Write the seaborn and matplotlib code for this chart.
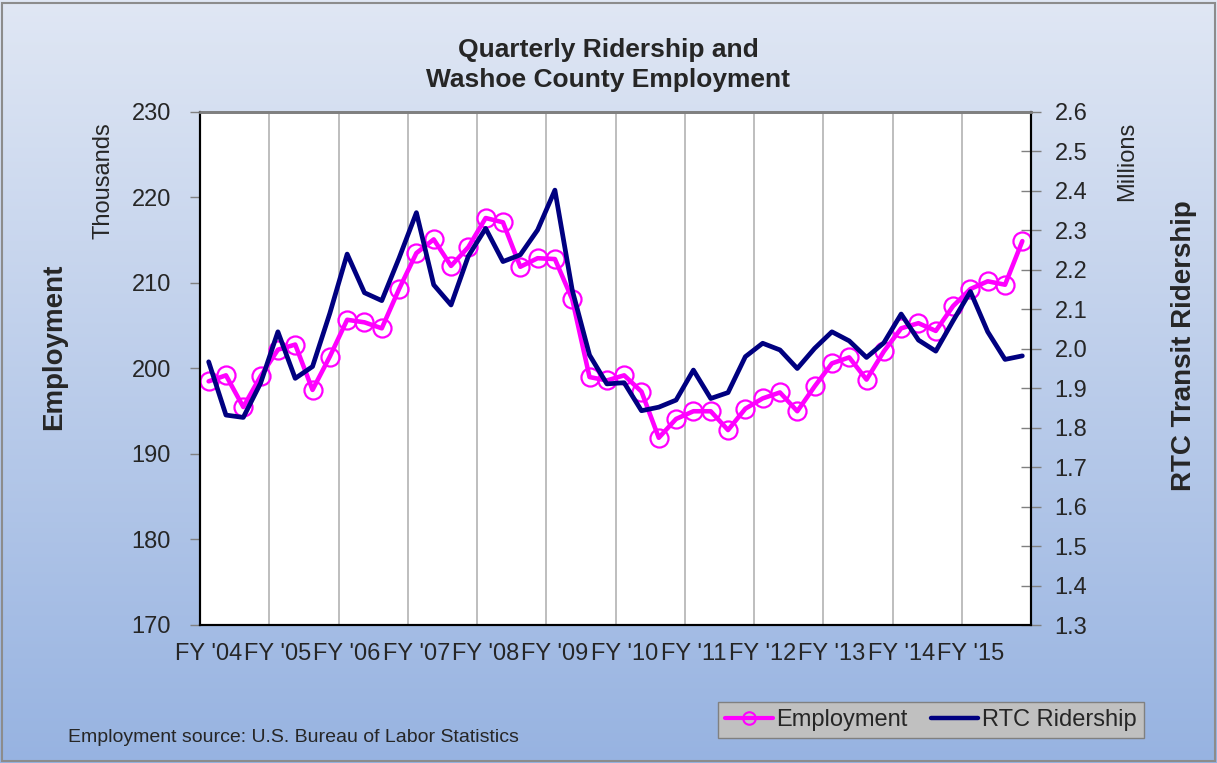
import numpy as np
import pandas as pd
import seaborn as sns
import matplotlib.pyplot as plt
from matplotlib.lines import Line2D
from matplotlib.patches import Rectangle
from matplotlib.colors import LinearSegmentedColormap
from matplotlib.ticker import FormatStrFormatter

# fiscal year labels (4 quarters each)
years = ["FY '04", "FY '05", "FY '06", "FY '07", "FY '08", "FY '09",
         "FY '10", "FY '11", "FY '12", "FY '13", "FY '14", "FY '15"]

# Washoe County employment, thousands (quarterly)
employment = [198.5, 199.2, 195.5, 199.1, 202.2, 202.8, 197.5, 201.4,
              205.7, 205.4, 204.7, 209.3, 213.5, 215.1, 212.0, 214.2,
              217.6, 217.1, 211.9, 212.9, 212.8, 208.1, 199.0, 198.6,
              199.2, 197.3, 191.9, 194.1, 195.0, 195.0, 192.8, 195.3,
              196.5, 197.2, 195.0, 197.9, 200.6, 201.3, 198.7, 202.0,
              204.7, 205.3, 204.4, 207.3, 209.3, 210.2, 209.8, 214.9]

# RTC transit ridership, millions (quarterly)
ridership = [1.967, 1.832, 1.826, 1.913, 2.043, 1.925, 1.955, 2.090,
             2.240, 2.142, 2.122, 2.230, 2.345, 2.162, 2.111, 2.235,
             2.305, 2.221, 2.238, 2.301, 2.402, 2.149, 1.984, 1.911,
             1.914, 1.843, 1.852, 1.870, 1.946, 1.874, 1.889, 1.980,
             2.014, 1.997, 1.950, 2.001, 2.043, 2.020, 1.978, 2.015,
             2.088, 2.022, 1.994, 2.071, 2.145, 2.043, 1.973, 1.982]

df = pd.DataFrame({"quarter": np.arange(len(employment)) + 0.5,
                   "Employment": employment,
                   "RTC Ridership": ridership})

sns.set_style("white")
plt.rcParams['font.family'] = ['Liberation Sans', 'DejaVu Sans']

fig = plt.figure(figsize=(12.17, 7.63), dpi=100)

# background gradient
bg = fig.add_axes([0, 0, 1, 1], zorder=-10)
grad = np.linspace(0, 1, 256).reshape(-1, 1)
cmap = LinearSegmentedColormap.from_list("bg", ["#e0e7f4", "#97b3e1"])
bg.imshow(grad, aspect='auto', cmap=cmap, extent=[0, 1, 0, 1])
bg.axis('off')
fig.patches.append(Rectangle((0.002, 0.002), 0.996, 0.994, transform=fig.transFigure,
                             fill=False, edgecolor='#8c8c8c', lw=1.5))

ax = fig.add_axes([200/1217, 1-625/763, 831/1217, 513/763])
ax.set_facecolor('white')
sns.lineplot(data=df, x='quarter', y='Employment', ax=ax, color='#ff00ff', lw=3.3,
             marker='o', markersize=13, markerfacecolor='none',
             markeredgecolor='#ff00ff', markeredgewidth=1.6)

ax2 = ax.twinx()
sns.lineplot(data=df, x='quarter', y='RTC Ridership', ax=ax2, color='#000080', lw=3.4)

# axes limits and ticks
ax.set_xlim(0, 48)
ax.set_ylim(170, 230)
ax2.set_ylim(1.3, 2.6)
ax.set_yticks(range(170, 231, 10))
ax2.set_yticks(np.arange(1.3, 2.61, 0.1))
ax2.yaxis.set_major_formatter(FormatStrFormatter('%.1f'))

ax.set_xticks(range(0, 49, 4))
ax.set_xticklabels([])
ax.set_xticks(np.arange(0, 48, 4) + 0.5, minor=True)
ax.set_xticklabels(years, minor=True)
ax.tick_params(axis='x', which='minor', length=0, labelsize=17, pad=13)
ax.tick_params(axis='x', which='major', length=7, width=1, color='#808080', direction='out')
ax.tick_params(axis='y', length=7, width=1, color='#808080', direction='out', labelsize=17, pad=14, left=True)
ax2.tick_params(axis='y', length=14, width=1, color='#808080', direction='inout', labelsize=17, pad=10, right=True)

ax.grid(axis='x', which='major', color='#acacac', lw=1.1)
ax.grid(axis='y', visible=False)
ax2.grid(False)
ax.set_axisbelow(True)
ax.set_xlabel('')
ax.set_ylabel('')
ax2.set_ylabel('')

for a in (ax, ax2):
    a.spines['top'].set_color('#808080')
    a.spines['top'].set_linewidth(2)
    for s in ('left', 'right', 'bottom'):
        a.spines[s].set_color('black')
        a.spines[s].set_linewidth(1.5)

# axis titles
fig.text(54/1217, 1-347/763, 'Employment', rotation=90, fontsize=20, fontweight='bold',
         ha='center', va='center')
fig.text(103/1217, 1-181/763, 'Thousands', rotation=90, fontsize=17, ha='center', va='center')
fig.text(1127/1217, 1-161/763, 'Millions', rotation=90, fontsize=17, ha='center', va='center')
fig.text(1184/1217, 1-346/763, 'RTC Transit Ridership', rotation=90, fontsize=20,
         fontweight='bold', ha='center', va='center')

# title
fig.text(608/1217, 1-65/763, 'Quarterly Ridership and\nWashoe County Employment',
         fontsize=19, fontweight='bold', ha='center', va='center', linespacing=1.3)

# source note
fig.text(68/1217, 1-738/763, 'Employment source: U.S. Bureau of Labor Statistics',
         fontsize=14, ha='left', va='center')

# legend
handles = [Line2D([], [], color='#ff00ff', lw=3, marker='o', ms=9, mfc='none',
                  mec='#ff00ff', mew=1.5),
           Line2D([], [], color='#000080', lw=3.2)]
fig.legend(handles, ['Employment', 'RTC Ridership'], loc='center',
           bbox_to_anchor=(931/1217, 1-720/763), ncol=2, fontsize=17, frameon=True,
           facecolor='#c0c0c0', edgecolor='#808080', fancybox=False, framealpha=1,
           handlelength=2.0, handletextpad=0.15, columnspacing=1.0, borderpad=0.3)

fig.savefig('out.png', dpi=100)
